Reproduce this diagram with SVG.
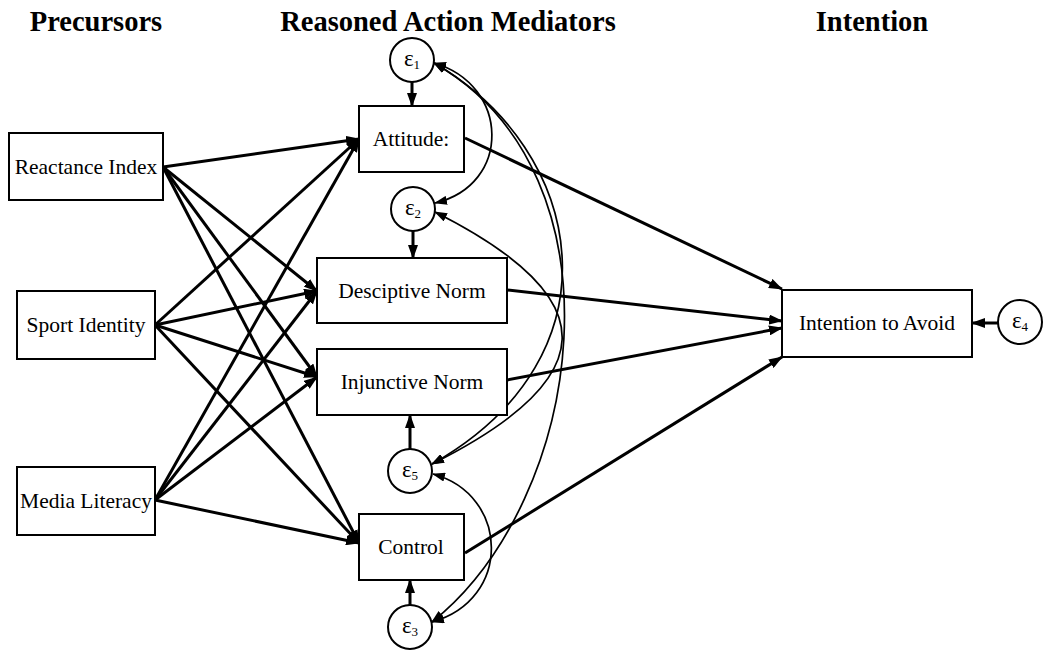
<svg xmlns="http://www.w3.org/2000/svg" width="1050" height="655" viewBox="0 0 1050 655">
<defs>
<style>
.box{fill:#fff;stroke:#000;stroke-width:2}
.err{fill:#fff;stroke:#000;stroke-width:2}
.lbl{font-family:"Liberation Serif","Times New Roman",serif;font-size:21.5px;fill:#000;text-anchor:middle}
.eps{font-family:"Liberation Serif","Times New Roman",serif;font-size:23px;fill:#000;text-anchor:middle}
.hdr{font-family:"Liberation Serif","Times New Roman",serif;font-size:28.5px;font-weight:bold;fill:#000;text-anchor:middle}
.path{fill:none;stroke:#000;stroke-width:3;marker-end:url(#ah)}
.cov{fill:none;stroke:#000;stroke-width:1.7;marker-start:url(#ah2);marker-end:url(#ah2)}
</style>
<marker id="ah" markerUnits="userSpaceOnUse" viewBox="0 0 14 10" markerWidth="14" markerHeight="10" refX="13" refY="5" orient="auto"><path d="M0,0 L14,5 L0,10 z" fill="#000"/></marker>
<marker id="ah2" markerUnits="userSpaceOnUse" viewBox="0 0 13 9" markerWidth="13" markerHeight="9" refX="12" refY="4.5" orient="auto-start-reverse"><path d="M0,0 L13,4.5 L0,9 z" fill="#000"/></marker>
</defs>
<rect width="1050" height="655" fill="#fff"/>

<g id="headers">
<text class="hdr" x="96" y="31">Precursors</text>
<text class="hdr" x="448" y="31">Reasoned Action Mediators</text>
<text class="hdr" x="872" y="31">Intention</text>
</g>

<g id="connectors">
<path class="path" d="M163,167 L359,139"/>
<path class="path" d="M163,167 L317,291"/>
<path class="path" d="M163,167 L317,377"/>
<path class="path" d="M163,167 L359,543"/>
<path class="path" d="M155,325 L359,139"/>
<path class="path" d="M155,325 L317,291"/>
<path class="path" d="M155,325 L317,377"/>
<path class="path" d="M155,325 L359,543"/>
<path class="path" d="M155,500 L359,139"/>
<path class="path" d="M155,500 L317,291"/>
<path class="path" d="M155,500 L317,377"/>
<path class="path" d="M155,500 L359,543"/>
<path class="path" d="M465,138 L782,289"/>
<path class="path" d="M507,290 L782,321"/>
<path class="path" d="M507,380 L782,328"/>
<path class="path" d="M465,553 L782,357"/>
<path class="path" d="M412,82 L412,106"/>
<path class="path" d="M413,230 L413,258"/>
<path class="path" d="M410,449 L410,415"/>
<path class="path" d="M410,605 L410,580"/>
<path class="path" d="M998,323 L972,323"/>
<path class="cov" d="M434,63 C510,85 512,185 435,203"/>
<path class="cov" d="M434,63 C585,150 625,355 432,464"/>
<path class="cov" d="M434,63 C630,175 585,500 432,622"/>
<path class="cov" d="M435,212 C610,300 600,380 432,464"/>
<path class="cov" d="M433,474 C510,495 512,600 432,622"/>
</g>

<g id="reactance">
<rect class="box" x="9" y="133" width="154" height="67"/>
<text class="lbl" x="86" y="174">Reactance Index</text>
</g>
<g id="sport">
<rect class="box" x="17" y="291" width="138" height="68"/>
<text class="lbl" x="86" y="332">Sport Identity</text>
</g>
<g id="media">
<rect class="box" x="17" y="467" width="138" height="68"/>
<text class="lbl" x="86" y="508">Media Literacy</text>
</g>
<g id="attitude">
<rect class="box" x="359" y="106" width="105" height="66"/>
<text class="lbl" x="411" y="146">Attitude:</text>
</g>
<g id="descriptive">
<rect class="box" x="317" y="258" width="190" height="65"/>
<text class="lbl" x="412" y="298">Desciptive Norm</text>
</g>
<g id="injunctive">
<rect class="box" x="317" y="349" width="190" height="66"/>
<text class="lbl" x="412" y="389">Injunctive Norm</text>
</g>
<g id="control">
<rect class="box" x="359" y="514" width="105" height="66"/>
<text class="lbl" x="411" y="554">Control</text>
</g>
<g id="intention">
<rect class="box" x="782" y="290" width="190" height="67"/>
<text class="lbl" x="877" y="330">Intention to Avoid</text>
</g>

<g id="e1">
<circle class="err" cx="412" cy="60" r="22"/>
<text class="eps" x="412" y="66">ε<tspan font-size="13" dy="3">1</tspan></text>
</g>
<g id="e2">
<circle class="err" cx="413" cy="209" r="22"/>
<text class="eps" x="413" y="215">ε<tspan font-size="13" dy="3">2</tspan></text>
</g>
<g id="e5">
<circle class="err" cx="410" cy="471" r="22"/>
<text class="eps" x="410" y="477">ε<tspan font-size="13" dy="3">5</tspan></text>
</g>
<g id="e3">
<circle class="err" cx="410" cy="627" r="22"/>
<text class="eps" x="410" y="633">ε<tspan font-size="13" dy="3">3</tspan></text>
</g>
<g id="e4">
<circle class="err" cx="1020" cy="322" r="22"/>
<text class="eps" x="1020" y="328">ε<tspan font-size="13" dy="3">4</tspan></text>
</g>
</svg>
